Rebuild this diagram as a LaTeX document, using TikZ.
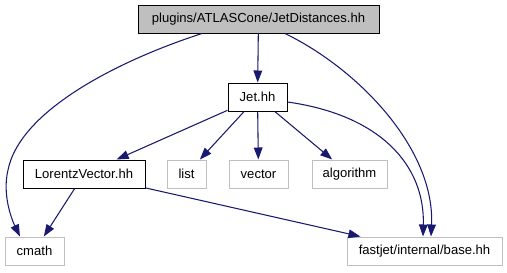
\documentclass[tikz,border=0pt]{standalone}
\usepackage{fontspec}
\setmainfont{Liberation Sans}
\usetikzlibrary{arrows.meta,calc}
\definecolor{edgeblue}{HTML}{191970}
\definecolor{boxgray}{HTML}{BFBFBF}
\begin{document}
\begin{tikzpicture}[x=0.75pt,y=-0.75pt,
  box/.style={draw=black, rectangle, minimum height=21pt, inner sep=0pt,
    font=\fontsize{9.8}{11}\selectfont, line width=0.75pt},
  ext/.style={box, draw=boxgray},
  edge/.style={draw=edgeblue, line width=0.8pt,
    -{Triangle[length=9pt,width=6.5pt]}}]
\useasboundingbox (0,0) rectangle (507,272);
\node[box, fill=boxgray, minimum width=180.75pt] (top) at (258.5,19) {plugins/ATLASCone/JetDistances.hh};
\node[box, minimum width=44.25pt] (jet) at (257.5,97) {Jet.hh};
\node[box, minimum width=91.5pt] (lv) at (84,174) {LorentzVector.hh};
\node[ext, minimum width=29.25pt] (list) at (186.5,174) {list};
\node[ext, minimum width=44.25pt] (vector) at (258.5,174) {vector};
\node[ext, minimum width=56.25pt] (algo) at (349.5,174) {algorithm};
\node[ext, minimum width=44.25pt] (cmath) at (34.5,251) {cmath};
\node[ext, minimum width=116.25pt] (base) at (424.5,251) {fastjet/internal/base.hh};

\draw[edge] (top) -- (jet);
\draw[edge] ($(top.south)+(-56.5,0)$) .. controls (120,60) and (20,110) .. (8,170)
  .. controls (2,195) and (12,220) .. ($(cmath.north)+(-14.5,0)$);
\draw[edge] ($(top.south)+(26.5,0)$) .. controls (360,70) and (435,150) .. ($(base.north)+(6.5,0)$);
\draw[edge] ($(jet.east)+(0,5)$) .. controls (380,115) and (425,165) .. ($(base.north)+(-1.5,0)$);
\draw[edge] (jet) -- (lv);
\draw[edge] (jet) -- (list);
\draw[edge] (jet) -- (vector);
\draw[edge] (jet) -- (algo);
\draw[edge] (lv) -- (cmath);
\draw[edge] (lv) -- (base);
\end{tikzpicture}
\end{document}
